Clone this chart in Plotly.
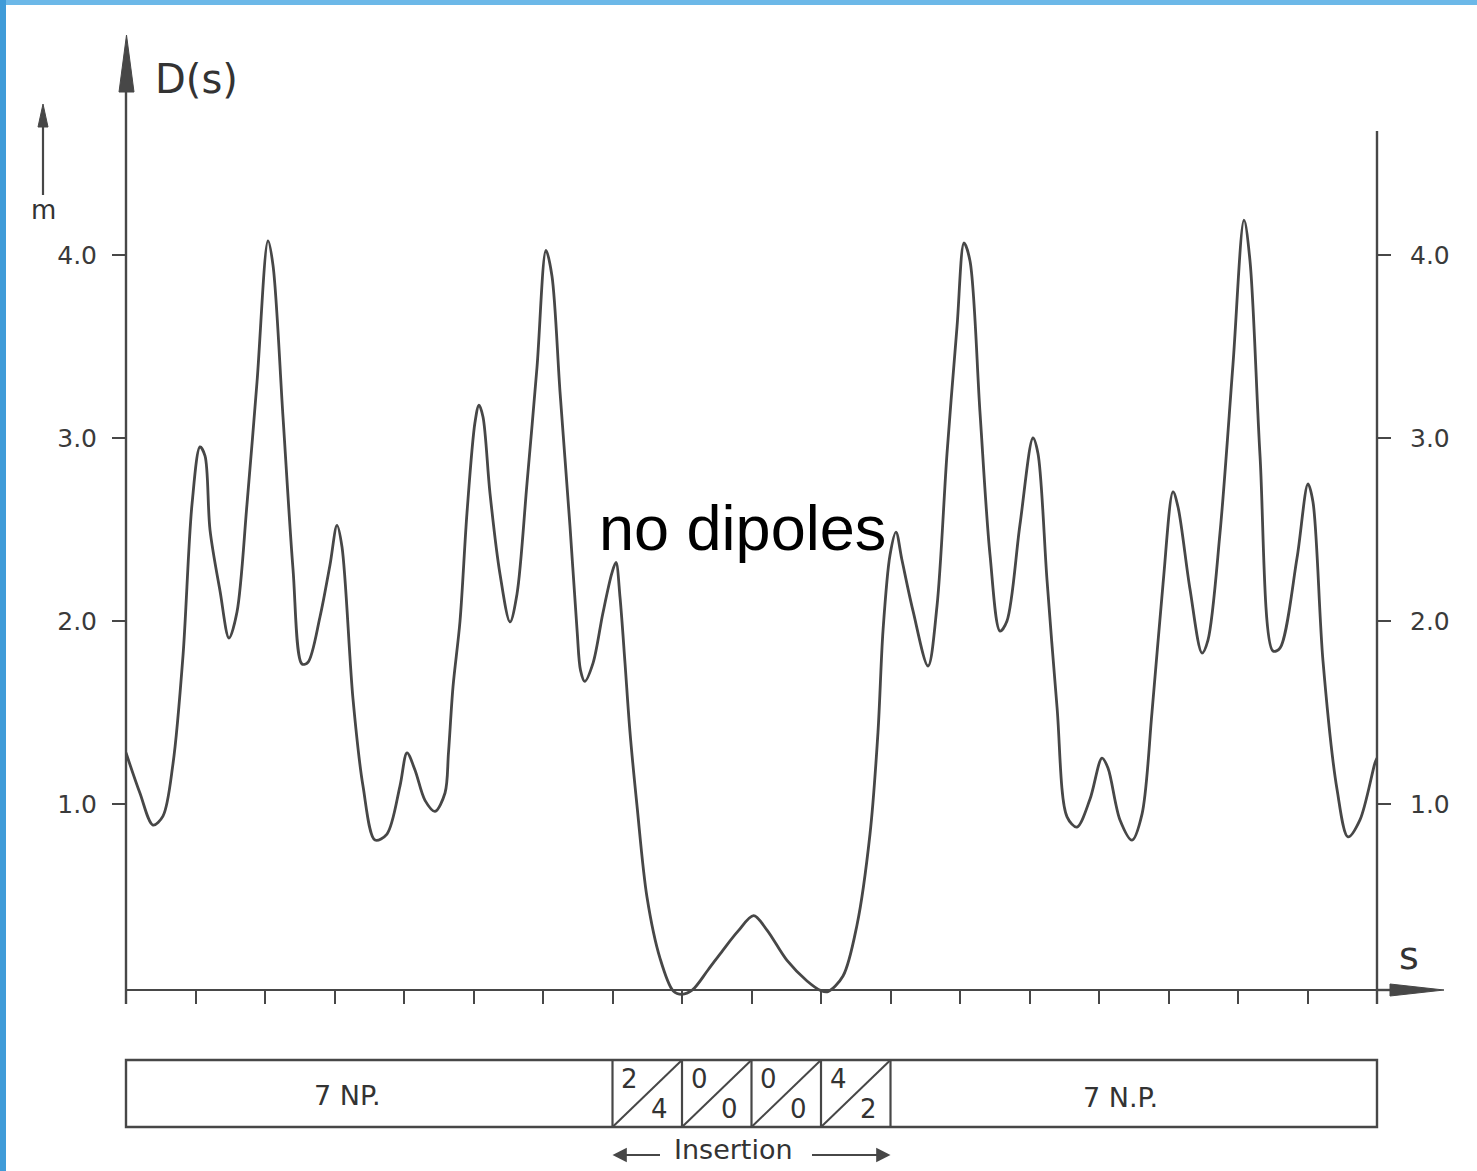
import plotly.graph_objects as go

# ---------------- data ----------------
s_vals = [0.00, 0.20, 0.388, 0.532, 0.676, 0.820, 0.950, 1.065, 1.137, 1.209, 1.353, 1.482, 1.597,
          1.741, 1.885, 2.043, 2.115, 2.259, 2.403, 2.532, 2.619, 2.791, 2.935, 3.036, 3.108,
          3.266, 3.410, 3.583, 3.755, 3.942, 4.043, 4.158, 4.302, 4.446, 4.590, 4.640, 4.705, 4.806,
          4.906, 5.022, 5.079, 5.137, 5.237, 5.381, 5.525, 5.626, 5.770, 5.914, 6.043, 6.129,
          6.245, 6.388, 6.490, 6.540, 6.600, 6.720, 6.860, 6.990, 7.050, 7.108, 7.180, 7.250,
          7.353, 7.496, 7.683,
          7.871, 8.000, 8.150, 8.374, 8.590, 8.806, 9.030, 9.223, 9.511, 9.799, 10.000, 10.100,
          10.317, 10.518, 10.705, 10.820, 10.892, 10.993, 11.079, 11.165, 11.324, 11.540, 11.669,
          11.813, 11.957, 12.058, 12.144, 12.288, 12.432, 12.576, 12.676, 12.863, 13.050, 13.122,
          13.252, 13.396, 13.540, 13.683, 13.871, 14.043, 14.129, 14.302, 14.475, 14.619, 14.763,
          14.921, 15.065, 15.137, 15.309, 15.482, 15.568, 15.741, 15.928, 16.086, 16.173, 16.317,
          16.504, 16.604, 16.849, 17.007, 17.079, 17.223, 17.424, 17.583, 17.755, 17.971, 18.000]
d_vals = [1.28, 1.06, 0.885, 0.934, 1.219, 1.809, 2.639, 2.951, 2.902, 2.497, 2.164, 1.907, 2.049,
          2.639, 3.306, 4.077, 3.945, 3.115, 2.284, 1.765, 1.775, 2.022, 2.306, 2.522, 2.404,
          1.574, 1.098, 0.803, 0.836, 1.098, 1.279, 1.186, 1.020, 0.960, 1.060, 1.280, 1.640, 2.000,
          2.590, 3.087, 3.180, 3.115, 2.699, 2.257, 1.995, 2.148, 2.754, 3.388, 4.025, 3.885,
          3.251, 2.520, 1.950, 1.730, 1.670, 1.770, 2.040, 2.260, 2.320, 2.130, 1.770, 1.400,
          0.989, 0.492, 0.158,
          -0.020, -0.040, -0.016, 0.093, 0.202, 0.305, 0.390, 0.311, 0.145, 0.033, -0.020, -0.025,
          0.060, 0.339, 0.836, 1.393, 1.945, 2.361, 2.486, 2.333, 2.055, 1.754, 2.082,
          2.915, 3.607, 4.066, 3.967, 3.137, 2.361, 1.945, 2.000, 2.527, 3.000, 2.915,
          2.224, 1.530, 0.930, 0.874, 1.027, 1.251, 1.197, 0.913, 0.803, 0.945, 1.503,
          2.202, 2.705, 2.623, 2.175, 1.825, 1.896, 2.481, 3.404, 4.191, 3.967, 2.902,
          1.836, 1.852, 2.344, 2.749, 2.650, 1.781, 1.082, 0.820, 0.913, 1.224, 1.250]

y_ticks = [1.0, 2.0, 3.0, 4.0]
y_tick_labels = ["1.0", "2.0", "3.0", "4.0"]
s_ticks = list(range(0, 19))
s_max = 18
cell_bounds = [7, 8, 9, 10, 11]
cell_top = ["2", "0", "0", "4"]
cell_bottom = ["4", "0", "0", "2"]
np_labels = ["7 NP.", "7 N.P."]

# ---------------- layout geometry (pixels) ----------------
W, Hh = 1477, 1171
L, R, T, B = 126, 1377, 130, 1000
PW, PH = R - L, B - T
PX_PER_UNIT = 183.0
D0_PIX = 987.0
y_lo = (D0_PIX - B) / PX_PER_UNIT
y_hi = (D0_PIX - T) / PX_PER_UNIT


def px(q):
    return (q - L) / PW


def py(p):
    return (B - p) / PH


def sx(s):
    return s / s_max


LC = "#474747"
TC = "#333333"
FONT = "Liberation Sans"
TFONT = "DejaVu Sans"

fig = go.Figure()
fig.add_trace(go.Scatter(x=s_vals, y=d_vals, mode="lines",
                         line=dict(color=LC, width=2.8, shape="spline", smoothing=0.9),
                         hoverinfo="skip", showlegend=False))
fig.add_trace(go.Scatter(x=[s_vals[0]], y=[d_vals[0]], yaxis="y2", mode="markers",
                         marker=dict(opacity=0), hoverinfo="skip", showlegend=False))

shapes = []
# page frame (blue edges of the scan)
shapes.append(dict(type="rect", xref="paper", yref="paper", x0=px(0), x1=px(W), y0=py(0), y1=py(5),
                   fillcolor="#6cb8e8", line=dict(width=0), layer="above"))
shapes.append(dict(type="rect", xref="paper", yref="paper", x0=px(0), x1=px(6), y0=py(Hh), y1=py(0),
                   fillcolor="#3f9bd8", line=dict(width=0), layer="above"))
# left D axis with arrow
shapes.append(dict(type="line", xref="paper", yref="paper", x0=0, x1=0, y0=py(1004), y1=py(88),
                   line=dict(color=LC, width=2.4)))
shapes.append(dict(type="path", xref="paper", yref="paper",
                   path=f"M {px(119)},{py(92)} L {px(126.5)},{py(35)} L {px(134)},{py(92)} Z",
                   fillcolor=LC, line=dict(color=LC, width=1)))
# right axis
shapes.append(dict(type="line", xref="paper", yref="paper", x0=1, x1=1, y0=py(1004), y1=py(131),
                   line=dict(color=LC, width=2.4)))
# s axis extension with arrow
shapes.append(dict(type="line", xref="paper", yref="paper", x0=1, x1=px(1395), y0=py(990), y1=py(990),
                   line=dict(color=LC, width=2.4)))
shapes.append(dict(type="path", xref="paper", yref="paper",
                   path=f"M {px(1390)},{py(984)} L {px(1444)},{py(990)} L {px(1390)},{py(996)} Z",
                   fillcolor=LC, line=dict(color=LC, width=1)))
# m arrow
shapes.append(dict(type="line", xref="paper", yref="paper", x0=px(43), x1=px(43), y0=py(195), y1=py(120),
                   line=dict(color=LC, width=2.2)))
shapes.append(dict(type="path", xref="paper", yref="paper",
                   path=f"M {px(38)},{py(127)} L {px(43)},{py(104)} L {px(48)},{py(127)} Z",
                   fillcolor=LC, line=dict(color=LC, width=1)))
# lattice box
box_top, box_bot = py(1060), py(1127)
shapes.append(dict(type="rect", xref="paper", yref="paper", x0=sx(0), x1=sx(s_max), y0=box_bot, y1=box_top,
                   line=dict(color=LC, width=2.4)))
for b in cell_bounds:
    shapes.append(dict(type="line", xref="paper", yref="paper", x0=sx(b), x1=sx(b), y0=box_bot, y1=box_top,
                       line=dict(color=LC, width=2.2)))
for a, b in zip(cell_bounds[:-1], cell_bounds[1:]):
    shapes.append(dict(type="line", xref="paper", yref="paper", x0=sx(a), x1=sx(b), y0=box_bot, y1=box_top,
                       line=dict(color=LC, width=2)))

annotations = []
annotations.append(dict(text="D(s)", xref="paper", yref="paper", x=px(153), y=py(79), xanchor="left",
                        yanchor="middle", showarrow=False, font=dict(family=TFONT, size=40, color=TC)))
annotations.append(dict(text="m", xref="paper", yref="paper", x=px(43), y=py(210), xanchor="center",
                        yanchor="middle", showarrow=False, font=dict(family=TFONT, size=26, color=TC)))
annotations.append(dict(text="s", xref="paper", yref="paper", x=px(1409), y=py(956), xanchor="center",
                        yanchor="middle", showarrow=False, font=dict(family=TFONT, size=38, color=TC)))
annotations.append(dict(text="no dipoles", xref="paper", yref="paper", x=px(742), y=py(528),
                        xanchor="center", yanchor="middle", showarrow=False,
                        font=dict(family=FONT, size=63, color="#000000")))
annotations.append(dict(text=np_labels[0], xref="paper", yref="paper", x=px(347), y=py(1095),
                        xanchor="center", yanchor="middle", showarrow=False,
                        font=dict(family=TFONT, size=27, color=TC)))
annotations.append(dict(text=np_labels[1], xref="paper", yref="paper", x=px(1120), y=py(1097),
                        xanchor="center", yanchor="middle", showarrow=False,
                        font=dict(family=TFONT, size=27, color=TC)))
for a, top, bot in zip(cell_bounds[:-1], cell_top, cell_bottom):
    annotations.append(dict(text=top, xref="paper", yref="paper", x=sx(a + 0.25), y=py(1079),
                            xanchor="center", yanchor="middle", showarrow=False,
                            font=dict(family=TFONT, size=26, color=TC)))
    annotations.append(dict(text=bot, xref="paper", yref="paper", x=sx(a + 0.68), y=py(1109),
                            xanchor="center", yanchor="middle", showarrow=False,
                            font=dict(family=TFONT, size=26, color=TC)))
annotations.append(dict(text="Insertion", xref="paper", yref="paper", x=px(733),
                        y=py(1167), xanchor="center", yanchor="bottom", showarrow=False,
                        font=dict(family=TFONT, size=27, color=TC)))
# insertion arrows (tail offsets in pixels)
annotations.append(dict(text="", xref="paper", yref="paper", axref="pixel", ayref="pixel",
                        x=sx(cell_bounds[0]), y=py(1155), ax=49, ay=0,
                        showarrow=True, arrowhead=2, arrowsize=1.3, arrowwidth=2.2, arrowcolor=LC))
annotations.append(dict(text="", xref="paper", yref="paper", axref="pixel", ayref="pixel",
                        x=sx(cell_bounds[-1]), y=py(1155), ax=-80, ay=0,
                        showarrow=True, arrowhead=2, arrowsize=1.3, arrowwidth=2.2, arrowcolor=LC))

fig.update_layout(
    width=W, height=Hh,
    margin=dict(l=L, r=W - R, t=T, b=Hh - B, pad=0),
    paper_bgcolor="white", plot_bgcolor="white",
    shapes=shapes, annotations=annotations,
    xaxis=dict(range=[0, s_max], anchor="free", position=py(990), showline=True, linecolor=LC, linewidth=2.4,
               ticks="outside", ticklen=13, tickwidth=2, tickcolor=LC, tickvals=s_ticks,
               showticklabels=False, showgrid=False, zeroline=False, fixedrange=True),
    yaxis=dict(range=[y_lo, y_hi], tickvals=y_ticks, ticktext=y_tick_labels, ticks="outside",
               ticklen=13, tickwidth=2, tickcolor=LC, showline=False, showgrid=False, zeroline=False,
               tickfont=dict(family=TFONT, size=25, color="#3a3a3a"), ticklabelstandoff=10),
    yaxis2=dict(range=[y_lo, y_hi], overlaying="y", side="right", anchor="x", tickvals=y_ticks,
                ticktext=y_tick_labels, ticks="outside", ticklen=13, tickwidth=2, tickcolor=LC,
                showline=False, showgrid=False, zeroline=False,
                tickfont=dict(family=TFONT, size=25, color="#3a3a3a"), ticklabelstandoff=14),
    showlegend=False,
)

fig.write_html("out.html")
